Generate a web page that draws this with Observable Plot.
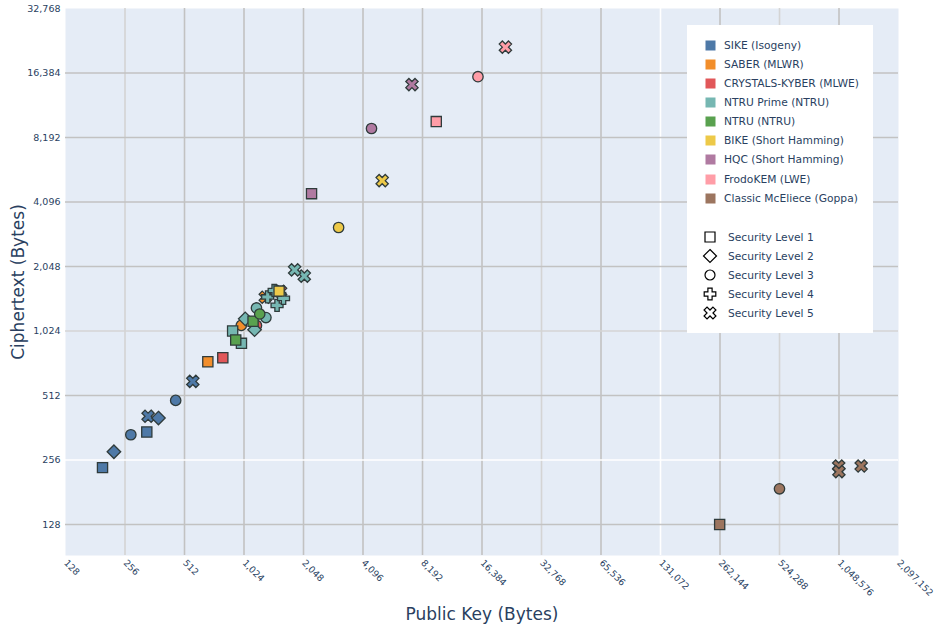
<!DOCTYPE html>
<html><head><meta charset="utf-8">
<script src="https://cdn.jsdelivr.net/npm/d3@7"></script>
<script src="https://cdn.jsdelivr.net/npm/@observablehq/plot@0.6"></script>
<style>
body{margin:0;background:#fff;}
#chart{position:relative;width:935px;height:628px;font-family:"DejaVu Sans",Verdana,sans-serif;}
#legend{position:absolute;left:687px;top:25px;width:186px;height:308px;background:#fff;}
.row{position:absolute;left:0;height:19px;display:flex;align-items:center;font-size:10.7px;color:#2a3f5f;white-space:nowrap;}
.row svg{flex:none;}
</style></head><body><div id="chart"><div id="legend"></div></div>
<script>
// ---- data ----
const families = ["SIKE (Isogeny)","SABER (MLWR)","CRYSTALS-KYBER (MLWE)","NTRU Prime (NTRU)","NTRU (NTRU)","BIKE (Short Hamming)","HQC (Short Hamming)","FrodoKEM (LWE)","Classic McEliece (Goppa)"];
const familyColors = ["#4e79a7","#f28e2b","#e15759","#76b7b2","#59a14f","#edc948","#b07aa1","#ff9da7","#9c755f"];
const levels = ["Security Level 1","Security Level 2","Security Level 3","Security Level 4","Security Level 5"];

const pointFamily = [
  0,0,0,0,0,0,0,0,
  1,1,1,
  2,2,2,
  3,3,3,3,3,3,3,3,3,3,3,3,
  4,4,4,
  5,5,5,
  6,6,6,
  7,7,7,
  8,8,8,8,8
];
const pointLevel = [
  1,2,3,5,1,2,3,5,
  1,3,5,
  1,3,5,
  1,2,3,4,4,5,1,2,3,4,4,5,
  1,1,3,
  1,3,5,
  1,3,5,
  1,3,5,
  1,3,5,5,5
];
const publicKey = [
  197,225,274,335,330,378,462,564,
  672,992,1312,
  800,1184,1568,
  994,1158,1322,1505,1623,2067,897,1039,1184,1349,1455,1847,
  930,1138,1230,
  1541,3083,5122,
  2249,4522,7245,
  9616,15632,21520,
  261120,524160,1044992,1047319,1357824
];
const ciphertext = [
  236,280,336,410,346,402,486,596,
  736,1088,1472,
  768,1088,1568,
  897,1039,1184,1349,1455,1847,1025,1167,1312,1477,1583,1975,
  930,1138,1230,
  1573,3115,5154,
  4481,9026,14469,
  9720,15744,21632,
  128,188,240,226,240
];
const xTicks = [128,256,512,1024,2048,4096,8192,16384,32768,65536,131072,262144,524288,1048576,2097152];
const yTicks = [128,256,512,1024,2048,4096,8192,16384,32768];
const xTitle = "Public Key (Bytes)";
const yTitle = "Ciphertext (Bytes)";

// ---- symbols (plotly-like shapes) ----
function sym(fn){ return {draw(ctx,size){ fn(ctx, Math.sqrt(size/Math.PI)); }}; }
function poly(ctx, pts){ ctx.moveTo(pts[0][0],pts[0][1]); for(let i=1;i<pts.length;i++) ctx.lineTo(pts[i][0],pts[i][1]); ctx.closePath(); }
function plusPts(L,w){ return [[-w,-L],[w,-L],[w,-w],[L,-w],[L,w],[w,w],[w,L],[-w,L],[-w,w],[-L,w],[-L,-w],[-w,-w]]; }
function rot(pts,a){ const c=Math.cos(a),s=Math.sin(a); return pts.map(([x,y])=>[x*c-y*s,x*s+y*c]); }
const symSquare = sym((c,r)=>{ const s=r*0.98; poly(c,[[-s,-s],[s,-s],[s,s],[-s,s]]); });
const symDiamond = sym((c,r)=>{ const s=r*1.3; poly(c,[[0,-s],[s,0],[0,s],[-s,0]]); });
const symCircle = sym((c,r)=>{ c.moveTo(r,0); c.arc(0,0,r,0,2*Math.PI); c.closePath(); });
const symPlus = sym((c,r)=>{ poly(c, plusPts(r*1.15, r*0.42)); });
const symX = sym((c,r)=>{ poly(c, rot(plusPts(r*1.25, r*0.42), Math.PI/4)); });
const symbolList = [symSquare,symDiamond,symCircle,symPlus,symX];

const data = publicKey.map((pk,i)=>({pk, ct: ciphertext[i], family: families[pointFamily[i]], level: levels[pointLevel[i]-1]}));

const fmt = d3.format(",");
const gridColor = "#c2c2c2";

const chart = Plot.plot({
  width: 935, height: 628,
  marginLeft: 65, marginRight: 37, marginTop: 8, marginBottom: 73,
  style: {fontFamily: "DejaVu Sans, Verdana, sans-serif", color: "#2a3f5f", background: "#fff"},
  x: {type: "log", base: 2, domain: [128, 2097152]},
  y: {type: "log", base: 2, domain: [91.8, 32768]},
  color: {domain: families, range: familyColors},
  symbol: {domain: levels, range: symbolList},
  marks: [
    Plot.frame({fill: "#e5ecf6", stroke: null}),
    Plot.ruleX(xTicks.slice(1, -1), {stroke: d => (d === 131072 ? "#ffffff" : (d === 256 || d === 32768 || d === 524288) ? "#d4d4d4" : gridColor), strokeWidth: 1.6}),
    Plot.ruleY(yTicks.slice(0, -1), {stroke: d => (d === 256 ? "#ffffff" : d === 1024 ? "#d4d4d4" : gridColor), strokeWidth: 1.6}),
    Plot.axisX({ticks: xTicks, tickFormat: fmt, tickRotate: 45, tickSize: 0, tickPadding: 6, fontSize: 9.2, label: null}),
    Plot.axisY({ticks: yTicks, tickFormat: fmt, tickSize: 0, tickPadding: 5, fontSize: 9.5, label: null}),
    Plot.dot(data, {x: "pk", y: "ct", fill: "family", symbol: "level", r: 5.2, stroke: "#2f3b3b", strokeWidth: 1.3}),
    Plot.text([xTitle], {frameAnchor: "bottom", dy: 64, fontSize: 17, fill: "#2a3f5f"}),
    Plot.text([yTitle], {frameAnchor: "left", textAnchor: "middle", dx: -47, rotate: -90, fontSize: 17, fill: "#2a3f5f"})
  ]
});
document.getElementById("chart").prepend(chart);

// ---- legend ----
const legend = document.getElementById("legend");
families.forEach((f,i)=>{
  const row = document.createElement("div");
  row.className = "row";
  row.style.top = (20.3 + i*19.1 - 9.5) + "px";
  row.style.left = "18px";
  row.innerHTML = `<svg width="11" height="11" style="margin-right:8px"><rect x="0.5" y="0.5" width="10" height="10" fill="${familyColors[i]}"/></svg><span>${f}</span>`;
  legend.appendChild(row);
});
const symPaths = [
  "M-5,-5H5V5H-5Z",
  "M0,-6.5L6.5,0L0,6.5L-6.5,0Z",
  "M5,0A5,5 0 1,1 -5,0A5,5 0 1,1 5,0Z",
  (()=>{const p=plusPts(5.8,2.1);return "M"+p.map(q=>q.join(",")).join("L")+"Z";})(),
  (()=>{const p=rot(plusPts(6.3,2.1),Math.PI/4);return "M"+p.map(q=>q.map(v=>v.toFixed(2)).join(",")).join("L")+"Z";})()
];
levels.forEach((l,i)=>{
  const row = document.createElement("div");
  row.className = "row";
  row.style.top = (212 + i*19.1 - 9.5) + "px";
  row.style.left = "15px";
  row.innerHTML = `<svg width="16" height="16" style="margin-right:10px"><path transform="translate(8,8)" d="${symPaths[i]}" fill="#fff" stroke="#000" stroke-width="1.2"/></svg><span>${l}</span>`;
  legend.appendChild(row);
});
</script>
</body></html>
